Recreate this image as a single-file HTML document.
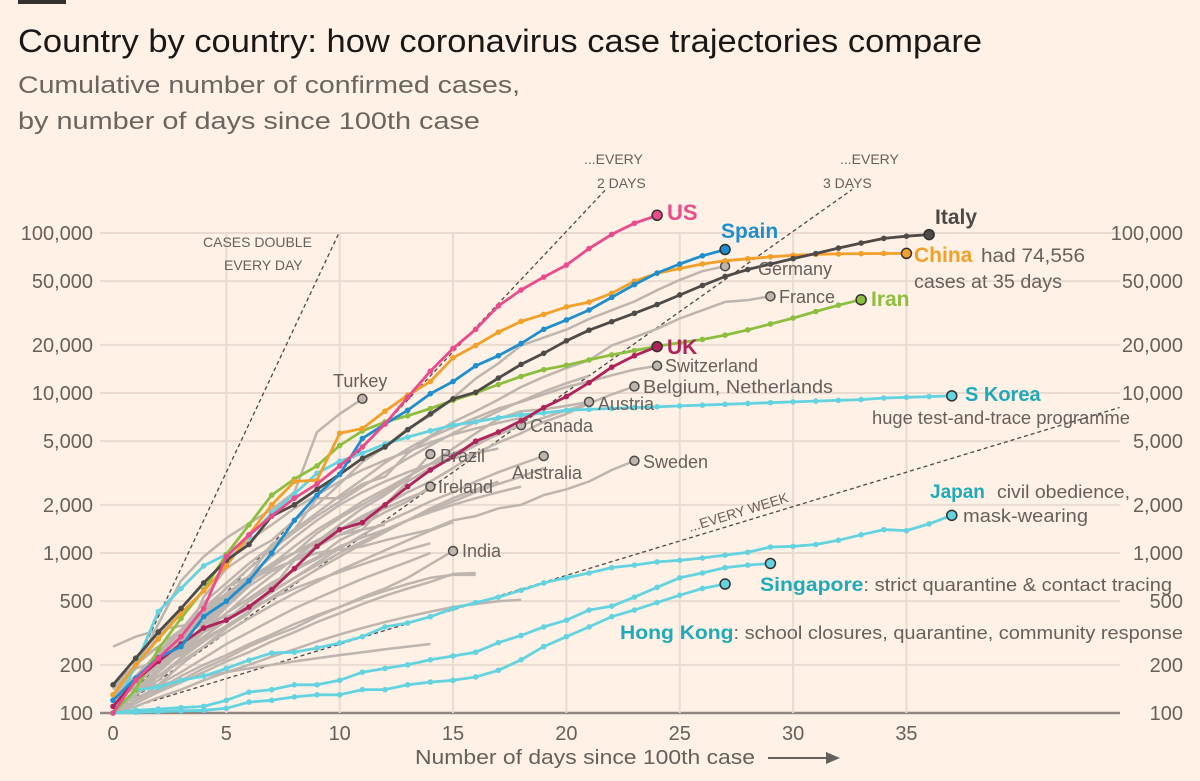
<!DOCTYPE html>
<html><head><meta charset="utf-8"><style>
html,body{margin:0;padding:0;background:#fff1e5;}
body{width:1200px;height:776px;overflow:hidden;font-family:"Liberation Sans","DejaVu Sans",sans-serif;}
svg text{font-family:"Liberation Sans","DejaVu Sans",sans-serif;}
</style></head><body>
<svg id="chart" width="1200" height="776" viewBox="0 0 1200 776" xmlns="http://www.w3.org/2000/svg">
<rect x="0" y="0" width="1200" height="776" fill="#fff1e5"/>
<rect x="18" y="0" width="48" height="4" fill="#33302e"/>
<text x="18" y="52" font-size="32" fill="#1a1817" textLength="964" lengthAdjust="spacingAndGlyphs">Country by country: how coronavirus case trajectories compare</text>
<text x="18" y="93" font-size="24" fill="#6b6560" textLength="502" lengthAdjust="spacingAndGlyphs">Cumulative number of confirmed cases,</text>
<text x="18" y="129" font-size="24" fill="#6b6560" textLength="462" lengthAdjust="spacingAndGlyphs">by number of days since 100th case</text>
<g id="grid"></g>
<g id="axes"></g>
<g id="refs"></g>
<g id="greys"></g>
<g id="colored"></g>
<g id="labels" font-size="18" fill="#66605c">
<text x="203" y="247" font-size="14">CASES DOUBLE</text>
<text x="224" y="270" font-size="14">EVERY DAY</text>
<text x="584" y="164" font-size="14">...EVERY</text>
<text x="597" y="188" font-size="14">2 DAYS</text>
<text x="840" y="164" font-size="14">...EVERY</text>
<text x="823" y="188" font-size="14">3 DAYS</text>
<text x="690" y="532" font-size="14" transform="rotate(-17 690 532)">...EVERY WEEK</text>
<text x="667" y="220" font-size="22" font-weight="bold" fill="#eb4b8d">US</text>
<text x="721" y="238" font-size="21" font-weight="bold" fill="#1f8ecf">Spain</text>
<text x="935" y="224" font-size="21" font-weight="bold" fill="#4d4a48">Italy</text>
<text x="914" y="262" font-size="21" font-weight="bold" fill="#f2a02a">China</text>
<text x="981" y="262" font-size="19" textLength="104" lengthAdjust="spacingAndGlyphs">had 74,556</text>
<text x="914" y="288" font-size="19" textLength="148" lengthAdjust="spacingAndGlyphs">cases at 35 days</text>
<text x="758" y="275">Germany</text>
<text x="779" y="303">France</text>
<text x="871" y="306" font-size="21" font-weight="bold" fill="#8cbf3f">Iran</text>
<text x="667" y="354" font-size="21" font-weight="bold" fill="#b0225a">UK</text>
<text x="665" y="372">Switzerland</text>
<text x="643" y="393" textLength="190" lengthAdjust="spacingAndGlyphs">Belgium, Netherlands</text>
<text x="598" y="410">Austria</text>
<text x="530" y="432">Canada</text>
<text x="333" y="387">Turkey</text>
<text x="440" y="462">Brazil</text>
<text x="438" y="493">Ireland</text>
<text x="512" y="479">Australia</text>
<text x="643" y="468">Sweden</text>
<text x="462" y="557">India</text>
<text x="965" y="401" font-size="20" font-weight="bold" fill="#1eaab8">S Korea</text>
<text x="872" y="424" textLength="258" lengthAdjust="spacingAndGlyphs">huge test-and-trace programme</text>
<text x="930" y="498" font-size="19" font-weight="bold" fill="#1eaab8">Japan</text>
<text x="997" y="498" textLength="133" lengthAdjust="spacingAndGlyphs">civil obedience,</text>
<text x="963" y="522" textLength="125" lengthAdjust="spacingAndGlyphs">mask-wearing</text>
<text x="760" y="591" font-size="19" font-weight="bold" fill="#1eaab8" textLength="412" lengthAdjust="spacingAndGlyphs">Singapore<tspan font-size="18" font-weight="normal" fill="#66605c">: strict quarantine &amp; contact tracing</tspan></text>
<text x="620" y="639" font-size="19" font-weight="bold" fill="#1eaab8" textLength="563" lengthAdjust="spacingAndGlyphs">Hong Kong<tspan font-size="18" font-weight="normal" fill="#66605c">: school closures, quarantine, community response</tspan></text>
<text x="415" y="764" font-size="20" textLength="340" lengthAdjust="spacingAndGlyphs">Number of days since 100th case</text>
<line x1="768" y1="758" x2="832" y2="758" stroke="#66605c" stroke-width="2"/>
<polygon points="840,758 826,752 826,764" fill="#66605c"/>
</g>
</svg>
<script>
const yTicks = [100,200,500,1000,2000,5000,10000,20000,50000,100000];
const yTickLabels = ["100","200","500","1,000","2,000","5,000","10,000","20,000","50,000","100,000"];
const xTicks = [0,5,10,15,20,25,30,35];
const refDays = [1,2,3,7];
const refEndDay = [9.97,21.7,32.6,44.4];

const usVals = [100,160,220,300,450,950,1300,1700,2200,2700,3500,4600,6400,9400,13700,19000,25000,35000,44000,53000,63000,80000,98000,115000,129000];
const spainVals = [120,165,222,260,400,500,670,1000,1600,2300,3100,5200,6400,7800,9900,11800,14800,17100,20400,25000,28600,33000,39600,47600,56200,64000,72000,78800];
const italyVals = [150,220,320,450,650,900,1130,1700,2000,2500,3100,3900,4600,5900,7400,9200,10100,12400,15100,17700,21200,24700,27900,31500,35700,41000,47000,53500,59100,63900,69200,74400,80500,86500,92500,95500,97700];
const chinaVals = [130,200,290,420,580,830,1300,2000,2800,2850,5600,6000,7700,9700,11800,16600,19800,24000,28000,31000,34500,37000,42000,50000,56000,60000,64000,67000,69000,71000,72500,73500,74000,74300,74500,74556];
const iranVals = [100,140,250,390,590,980,1500,2300,2900,3500,4700,5800,6600,7200,8000,9000,10000,11300,12700,14000,14900,16100,17300,18400,19600,20600,21600,23000,24800,27000,29400,32300,35400,38300];
const ukVals = [110,160,210,270,340,380,460,590,800,1100,1400,1550,2000,2600,3300,4000,5000,5700,6700,8100,9500,11600,14500,17100,19500];
const skoreaVals = [100,200,430,600,830,980,1260,1770,2340,3150,3740,4200,4800,5300,5800,6300,6600,7000,7300,7500,7800,7900,8000,8100,8200,8300,8400,8500,8600,8700,8800,8900,9000,9100,9300,9400,9500,9600];
const japanVals = [100,139,145,160,170,190,214,237,240,255,274,300,345,365,400,450,490,530,585,650,700,750,810,840,880,900,930,970,1010,1090,1100,1130,1200,1300,1400,1380,1520,1720];
const singaporeVals = [100,104,106,108,110,120,135,140,150,150,160,180,190,200,215,227,240,275,305,345,380,440,465,530,610,700,750,810,840,860];
const hongkongVals = [100,101,102,103,104,107,117,120,126,130,130,140,140,150,156,160,168,185,215,260,300,345,400,440,490,545,600,640];

const germanyVals = [130,160,200,260,530,800,1000,1200,1600,2000,2700,3700,4600,6000,7200,9300,12300,15300,19800,22200,24900,29000,32900,37300,43900,50900,57700,62000];
const franceVals = [130,190,210,280,420,610,710,1130,1400,1780,2280,2880,3660,4480,5380,6580,7700,9100,10900,12600,14300,16000,19800,22300,25200,29200,32900,37100,38100,40200];
const switzerlandVals = [100,210,260,330,490,650,860,1100,1400,2200,2200,2700,3000,4200,5300,6100,7000,8000,8800,9800,10900,11800,12900,14000,14800];
const belgiumVals = [100,130,190,260,320,380,500,620,800,1140,1400,1700,2000,2400,2800,3400,4200,4900,5600,6600,7400,8600,9800,11000];
const austriaVals = [100,130,180,240,360,500,650,860,1000,1330,1650,2000,2400,3000,3600,4500,5600,6900,7700,7900,8300,8800];
const canadaVals = [100,120,150,200,260,340,420,600,800,940,1200,1400,2000,2800,3400,4000,4700,5600,6300];
const turkeyVals = [150,190,360,670,950,1240,1530,1870,2400,5700,7400,9200];
const brazilVals = [120,150,200,230,290,350,430,600,900,1100,1500,1900,2300,2900,4150];
const irelandVals = [130,170,220,290,370,550,680,790,900,1100,1300,1500,1800,2100,2600];
const australiaVals = [110,130,160,220,300,380,450,570,700,870,1070,1300,1550,1800,2100,2400,2800,3200,3600,4040];
const swedenVals = [120,160,200,260,330,460,620,770,900,1000,1050,1100,1200,1300,1400,1600,1700,1900,2000,2300,2500,2800,3300,3770];
const indiaVals = [110,125,140,160,190,220,260,300,340,400,460,530,600,700,850,1030];
const other1 = [120,150,200,260,330,420,520,650,780,920,1100,1250,1400,1600,1800,2000,2200,2400,2600];
const other2 = [100,140,190,240,300,380,470,580,700,840,1000,1180,1380,1600,1850,2100,2400,2700,3000,3400];
const other3 = [100,130,170,210,260,320,390,470,560,660,780,900,1040,1200,1380,1560];
const other4 = [100,120,150,180,220,270,320,380,450,520,600,690,780,880,1000];
const other5 = [100,115,135,155,180,210,240,280,320,370,420,480,540,600,660,740,750];
const other6 = [100,110,125,140,160,180,200,225,250,280,310,340,370,400,430,460,480,500,510];
const other7 = [130,140,150,160,170,180,190,200,210,220,230,240,250,260,270];
const other8 = [260,300,330,350,370,400,450,520,600,680,760,850,950,1050,1150];
const other9 = [150,200,260,330,420,530,660,820,1000,1200,1400,1650,1900,2200,2500];
const other10 = [110,150,210,290,400,540,720,950,1250,1600,2000,2400,2800,3200,3600,3900,4200,4500];
const other11 = [100,140,180,240,320,420,560,720,930,1180,1500,1900,2300];
const other12 = [100,130,170,220,280,350,430,530,650,790,950,1140,1350,1600,1900,2200,2500,2800];
const other13 = [100,160,230,320,430,560,700,850,1000,1150,1300,1400,1500];
const other14 = [100,120,140,170,200,230,270,310,360,410,460,520,580,640,700,730,730];
const other15 = [140,200,300,450,650,900,1200,1500,1900,2300,2800,3300,3800,4300,4900,5500,6000,6500,7000,7600];
const other16 = [100,130,180,250,350,480,650,850,1100,1400,1700,2100,2500,3000,3600,4200,4800,5500,6300,7000,7800,8600];
const other17 = [120,170,240,330,450,600,800,1050,1350,1700,2100,2600,3200,3900,4700,5600,6600,7700,8900,10200,11500,12800];

const NS="http://www.w3.org/2000/svg";
const X0=113, PXD=22.67, Y100=713, PXDEC=160, XR=1120;
function xs(d){return X0+d*PXD;}
function ys(v){return Y100-(Math.log10(v)-2)*PXDEC;}
function mk(tag,attrs,parent){const e=document.createElementNS(NS,tag);for(const k in attrs)e.setAttribute(k,attrs[k]);parent.appendChild(e);return e;}

const grid=document.getElementById('grid'), axes=document.getElementById('axes');
yTicks.forEach((t,i)=>{
  const l=mk('line',{x1:100,x2:XR,y1:ys(t),y2:ys(t),stroke:t===100?'#8f8781':'#e9dbcf','stroke-width':t===100?2.5:2},grid);
  
  
  const a=mk('text',{x:93,y:ys(t)+7,'text-anchor':'end','font-size':20,fill:'#66605c'},axes);
  a.textContent=yTickLabels[i];
  
  
  const b=mk('text',{x:1183,y:ys(t)+7,'text-anchor':'end','font-size':20,fill:'#66605c'},axes);
  b.textContent=yTickLabels[i];
  
  
});
xTicks.forEach(t=>{
  if(t>0){const l=mk('line',{x1:xs(t),x2:xs(t),y1:ys(100000),y2:Y100,stroke:'#e9dbcf','stroke-width':2},grid);
  
  }
  const a=mk('text',{x:xs(t),y:740,'text-anchor':'middle','font-size':20,fill:'#66605c'},axes);
  a.textContent=String(t);
  
  
});

const refs=document.getElementById('refs');
refDays.forEach((dd,i)=>{
  const e=refEndDay[i];
  const l=mk('line',{x1:xs(0),y1:ys(100),x2:xs(e),y2:ys(100*Math.pow(2,e/dd)),stroke:'#4d4845','stroke-width':1.3,'stroke-dasharray':'4,3'},refs);
  
  
});

function path(vals){return vals.map((v,i)=>(i?'L':'M')+xs(i).toFixed(1)+','+ys(v).toFixed(1)).join(' ');}

const greys=document.getElementById('greys');
const greySeries=[other1,other2,other3,other4,other5,other6,other7,other8,other9,other10,other11,other12,other13,other14,other15,other16,other17,germanyVals,franceVals,switzerlandVals,belgiumVals,austriaVals,canadaVals,turkeyVals,brazilVals,irelandVals,australiaVals,swedenVals,indiaVals];
const labelledGrey=new Set([germanyVals,franceVals,switzerlandVals,belgiumVals,austriaVals,canadaVals,turkeyVals,brazilVals,irelandVals,australiaVals,swedenVals,indiaVals]);
greySeries.forEach(s=>{
  const p=mk('path',{d:path(s),fill:'none',stroke:'#bdb5ae','stroke-width':2.5,'stroke-linejoin':'round'},greys);
  
  
});
greySeries.forEach(s=>{
  if(!labelledGrey.has(s))return;
  const n=s.length-1;
  const c=mk('circle',{cx:xs(n),cy:ys(s[n]),r:4.5,fill:'#bdb5ae',stroke:'#4d4845','stroke-width':1.5},greys);
  
  
});

const colored=document.getElementById('colored');
const colSeries=[[japanVals,'#63d3e0'],[singaporeVals,'#63d3e0'],[hongkongVals,'#63d3e0'],[skoreaVals,'#63d3e0'],[iranVals,'#8cbf3f'],[chinaVals,'#f2a02a'],[ukVals,'#b0225a'],[italyVals,'#4d4a48'],[spainVals,'#1f8ecf'],[usVals,'#eb4b8d']];
colSeries.forEach(([s,c])=>{
  const g=mk('g',{},colored);
  
  
  const p=mk('path',{d:path(s),fill:'none',stroke:c,'stroke-width':2.8,'stroke-linejoin':'round'},g);
  
  
  s.forEach((v,i)=>{
    if(i===s.length-1)return;
    const d=mk('circle',{cx:xs(i),cy:ys(v),r:2.8,fill:c},g);
    
    
  });
  const n=s.length-1;
  const e=mk('circle',{cx:xs(n),cy:ys(s[n]),r:5,fill:c,stroke:'#33302e','stroke-width':1.5},g);
  
  
});
</script>
</body></html>
